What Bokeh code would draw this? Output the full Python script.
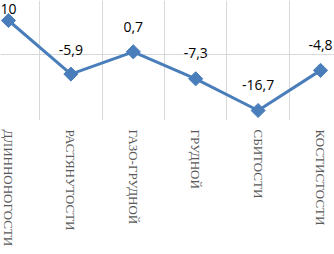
import math
from bokeh.plotting import figure
from bokeh.models import FixedTicker, ColumnDataSource
from bokeh.core.properties import value
from bokeh.embed import file_html
from bokeh.resources import INLINE

categories = ["ДЛИННОНОГОСТИ", "РАСТЯНУТОСТИ", "ГАЗО-ГРУДНОЙ", "ГРУДНОЙ", "СБИТОСТИ", "КОСТИСТОСТИ"]
values = [10, -5.9, 0.7, -7.3, -16.7, -4.8]
value_labels = ["10", "-5,9", "0,7", "-7,3", "-16,7", "-4,8"]
label_offsets = [-11, -24, -25, -26, -25, -25]

xs = list(range(len(categories)))
src = ColumnDataSource(dict(x=xs, y=values, lab=value_labels, off=label_offsets))

p = figure(width=334, height=254, x_range=(-0.128, 5.224), y_range=(-19.67, 15.93),
           output_backend="svg", toolbar_location=None,
           min_border_left=0, min_border_right=0, min_border_top=0, min_border_bottom=134)
p.outline_line_color = None
p.background_fill_color = "white"
p.border_fill_color = "white"
p.yaxis.visible = False

ax = p.xaxis[0]
ax.ticker = FixedTicker(ticks=xs)
ax.major_label_overrides = {i: c for i, c in enumerate(categories)}
ax.major_label_orientation = "vertical"
ax.axis_line_color = None
ax.major_tick_line_color = None
ax.minor_tick_line_color = None
ax.major_tick_in = 0
ax.major_tick_out = 0
ax.major_label_standoff = 9
ax.major_label_text_font = "Liberation Serif"
ax.major_label_text_font_size = "13px"
ax.major_label_text_color = "#595959"

p.xgrid.ticker = FixedTicker(ticks=[0.5, 1.5, 2.5, 3.5, 4.5])
p.ygrid.ticker = FixedTicker(ticks=[0])
p.xgrid.grid_line_color = "#D9D9D9"
p.ygrid.grid_line_color = "#D9D9D9"

p.line("x", "y", source=src, line_color="#4A7EBB", line_width=3)
p.scatter("x", "y", source=src, marker="square", angle=math.pi / 4, size=10,
          fill_color="#4A7EBB", line_color="#4A7EBB")
p.text("x", "y", text="lab", source=src, y_offset="off", text_align="center",
       text_baseline="middle", text_font=value("Open Sans"), text_font_size="14px",
       text_color="#000000")

open("out.html", "w").write(file_html(p, INLINE))
